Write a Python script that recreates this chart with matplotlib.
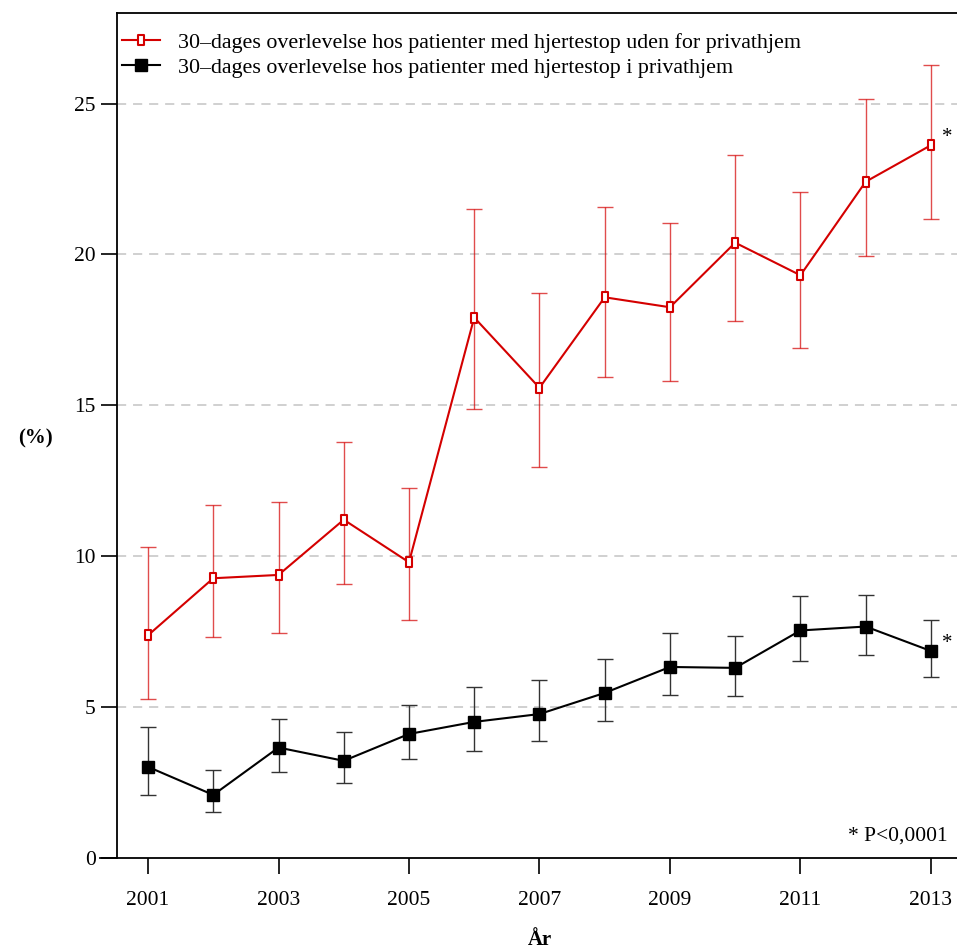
import matplotlib.pyplot as plt
import numpy as np
from matplotlib.path import Path

plt.rcParams['font.family'] = ['Liberation Serif', 'DejaVu Serif']

# Data: 30-dages overlevelse (%) med 95% konfidensinterval
years = [2001, 2002, 2003, 2004, 2005, 2006, 2007, 2008, 2009, 2010, 2011, 2012, 2013]

ude = [7.38, 9.27, 9.38, 11.21, 9.80, 17.91, 15.58, 18.58, 18.25, 20.39, 19.31, 22.41, 23.62]
ude_lo = [5.28, 7.33, 7.46, 9.08, 7.87, 14.88, 12.95, 15.94, 15.79, 17.79, 16.89, 19.94, 21.19]
ude_hi = [10.29, 11.69, 11.81, 13.80, 12.25, 21.49, 18.71, 21.58, 21.03, 23.29, 22.07, 25.15, 26.29]

hjem = [3.02, 2.09, 3.66, 3.22, 4.11, 4.51, 4.77, 5.47, 6.33, 6.30, 7.54, 7.67, 6.86]
hjem_lo = [2.10, 1.53, 2.86, 2.48, 3.29, 3.56, 3.87, 4.54, 5.39, 5.37, 6.54, 6.74, 5.99]
hjem_hi = [4.34, 2.90, 4.61, 4.16, 5.08, 5.68, 5.91, 6.61, 7.46, 7.37, 8.67, 8.73, 7.87]

labels = ['30\u2013dages overlevelse hos patienter med hjertestop uden for privathjem',
          '30\u2013dages overlevelse hos patienter med hjertestop i privathjem']

red = '#d40000'

# smal, hoej rektangel som markoer
rect = Path([(-0.28, -0.5), (0.28, -0.5), (0.28, 0.5), (-0.28, 0.5), (-0.28, -0.5)],
            [Path.MOVETO, Path.LINETO, Path.LINETO, Path.LINETO, Path.CLOSEPOLY])

fig = plt.figure(figsize=(9.57, 9.51), dpi=100)
ax = fig.add_axes([0.1223, 0.0978, 0.8777, 0.8885])

ax.set_xlim(2000.525, 2013.4)
ax.set_ylim(0, 28)

for y in [5, 10, 15, 20, 25]:
    ax.axhline(y, color='#c4c4c4', lw=1.1, dashes=(6, 4.5), zorder=0)

y1 = np.array(ude)
y2 = np.array(hjem)
ax.errorbar(years, y1, yerr=[y1 - np.array(ude_lo), np.array(ude_hi) - y1], fmt='none',
            ecolor=red, alpha=0.7, elinewidth=1.0, capsize=5.8, capthick=1.0, zorder=2)
ax.errorbar(years, y2, yerr=[y2 - np.array(hjem_lo), np.array(hjem_hi) - y2], fmt='none',
            ecolor='#333333', elinewidth=1.0, capsize=5.8, capthick=1.0, zorder=2)

l1, = ax.plot(years, ude, color=red, lw=1.5, marker=rect, ms=6.8, mfc='white',
              mec=red, mew=1.5, zorder=3)
l2, = ax.plot(years, hjem, color='black', lw=1.5, marker='s', ms=8, mfc='black',
              mec='black', zorder=3)

ax.legend([l1, l2], labels, loc='upper left', frameon=False, fontsize=15.8,
          handlelength=1.73, handletextpad=0.82, borderaxespad=0, borderpad=0.23,
          labelspacing=0.2, bbox_to_anchor=(0.0, 0.983))

# signifikans
ax.text(2013.17, ude[-1] + 0.25, '*', fontsize=15, ha='left', va='center')
ax.text(2013.17, hjem[-1] + 0.25, '*', fontsize=15, ha='left', va='center')
ax.text(0.989, 0.026, '* P<0,0001', transform=ax.transAxes, fontsize=15.5,
        ha='right', va='center')

ax.set_xticks([2001, 2003, 2005, 2007, 2009, 2011, 2013])
ax.set_yticks([0, 5, 10, 15, 20, 25])
ax.tick_params(axis='both', length=11.5, width=1.2, labelsize=15.5, direction='out')
ax.tick_params(axis='x', pad=12)
ax.tick_params(axis='y', pad=4)

for s in ['left', 'top', 'bottom']:
    ax.spines[s].set_linewidth(1.3)
ax.spines['right'].set_visible(False)
ax.spines['bottom'].set_bounds(2000.265, 2013.4)

fig.text(35 / 957, 1 - 438 / 951, '(%)', fontsize=15, fontweight='bold',
         ha='center', va='center')
fig.text(540 / 957, 1 - 940 / 951, 'År', fontsize=15, fontweight='bold',
         ha='center', va='center')

fig.savefig('out.png', dpi=100)
